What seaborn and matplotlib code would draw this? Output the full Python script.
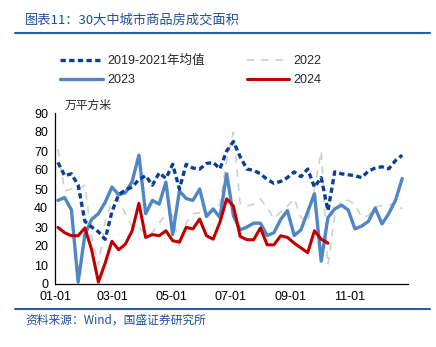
import matplotlib
matplotlib.use("Agg")
import matplotlib.pyplot as plt
import seaborn as sns
import pandas as pd

# ---- data (weekly) ----
series_names = ["2019-2021年均值", "2022", "2023", "2024"]
avg_1921 = [64, 57, 58, 52, 33, 30, 27.5, 23.5, 38, 47, 49.5, 51, 55, 57, 52, 58.5, 55.6, 63, 50, 63,
            61, 60.5, 63.4, 64, 60.6, 70, 75, 67, 60.5, 59.8, 58, 55, 53, 54, 56, 59, 56.5, 60.5, 51, 56,
            38.6, 59, 58, 57.5, 57, 56, 59.5, 61, 61.7, 60.6, 65, 67.8]
y2022 = [71, 49, 50, 50, 52, 25, 10, 33, 44, 44, 37, 30, 30, 26, 27, 32, 37, 36, 20, 32,
         37, 37.5, 37.5, 38, 42, 65, 80, 42, 41, 42, 44.8, 40, 34.4, 38, 41, 45, 35, 32.5, 50, 70,
         10, 36, 44, 44, 42, 35, 36, 40.5, 41.3, 41.5, 43, 39.5]
y2023 = [44, 45.5, 39, 1, 26, 34, 37, 43, 51, 47, 48, 54, 67.8, 37, 44, 42, 53.6, 26, 49, 45,
         44, 50, 35.5, 39.5, 35, 58, 36, 28.5, 30, 32, 32, 25.5, 27, 34, 38.6, 25.5, 28.5, 38, 47.5, 12,
         35, 39.5, 41.5, 39, 29, 30.5, 33, 40, 31.6, 37, 44, 55.5]
y2024 = [29.8, 27, 25.4, 25.4, 29.5, 18, 1, 11, 22.5, 18, 21, 28, 42.5, 24.5, 26, 25.4, 28, 22.8, 22, 29.8,
         29, 34.2, 25.4, 23.6, 32.5, 44.8, 41, 25, 23.3, 23.3, 29.5, 20.6, 20.6, 25.4, 24.5, 21.5, 19, 16.5, 28, 23.6,
         21.5]
week_dates = pd.date_range("2024-01-04", periods=52, freq="7D")
x_tick_dates = ["2024-01-01", "2024-03-01", "2024-05-01", "2024-07-01", "2024-09-01", "2024-11-01", "2025-01-01"]
y_ticks = [0, 10, 20, 30, 40, 50, 60, 70, 80, 90]

sns.set_style("white")
plt.rcParams["font.family"] = ["Liberation Sans", "Noto Sans CJK SC", "DejaVu Sans"]

fig = plt.figure(figsize=(4.36, 3.47), dpi=100)
ax = fig.add_axes([55 / 436, 1 - 284 / 347, (408 - 55) / 436, (284 - 113) / 347])

frames = []
for name, vals in zip(series_names, [avg_1921, y2022, y2023, y2024]):
    frames.append(pd.DataFrame({"date": week_dates[:len(vals)], "value": vals, "series": name}))
df = pd.concat(frames, ignore_index=True)

styles = {
    "2022": dict(color="#cfcfcf", lw=1.2, ls=(0, (4.5, 4)), z=1),
    "2023": dict(color="#4f86c6", lw=2.4, ls="-", z=2),
    "2019-2021年均值": dict(color="#0a3f94", lw=2.4, ls=(0, (1.6, 1.0)), z=3),
    "2024": dict(color="#c00000", lw=2.2, ls="-", z=4),
}
handles = {}
for name in ["2022", "2023", "2019-2021年均值", "2024"]:
    st = styles[name]
    sub = df[df["series"] == name]
    sns.lineplot(data=sub, x="date", y="value", ax=ax, color=st["color"], lw=st["lw"],
                 linestyle=st["ls"], zorder=st["z"], label=name)
    handles[name] = ax.get_lines()[-1]
ax.get_legend().remove()

ax.set_xlim(pd.Timestamp("2024-01-01"), pd.Timestamp("2025-01-01"))
ax.set_ylim(0, 90)
ax.set_yticks(y_ticks)
ax.set_xticks([pd.Timestamp(d) for d in x_tick_dates])
ax.set_xticklabels([pd.Timestamp(d).strftime("%m-%d") for d in x_tick_dates[:-1]] + [""])
ax.set_xlabel("")
ax.set_ylabel("")
for s in ["top", "right"]:
    ax.spines[s].set_visible(False)
for s in ["left", "bottom"]:
    ax.spines[s].set_color("black")
    ax.spines[s].set_linewidth(0.9)
ax.tick_params(axis="y", direction="out", length=3, width=0.9, labelsize=9, pad=2, colors="black")
ax.tick_params(axis="x", direction="in", length=3, width=0.9, labelsize=9, pad=5, colors="black")
ax.grid(False)

# unit label
fig.text(65 / 436, 1 - 105 / 347, "万平方米", fontsize=8.5, family=["Noto Sans CJK SC"], va="center", ha="left")

# legend
order = ["2019-2021年均值", "2023", "2022", "2024"]
fig.legend([handles[n] for n in order], order, ncol=2, loc="center left",
           bbox_to_anchor=(60 / 436, 1 - 70.5 / 347), frameon=False, fontsize=9,
           handlelength=3.4, handletextpad=0.35, columnspacing=3.4, labelspacing=0.55, borderpad=0,
           borderaxespad=0)

# title and rules
fig.text(25 / 436, 1 - 20 / 347, "图表11：30大中城市商品房成交面积", fontsize=9.5, color="#1f4e9c",
         style="italic", va="center", ha="left", family=["Noto Sans CJK SC", "DejaVu Sans"])
fig.add_artist(plt.Line2D([15 / 436, 430 / 436], [1 - 33 / 347, 1 - 33 / 347], color="#2a5caa", lw=1.5))
fig.add_artist(plt.Line2D([15 / 436, 430 / 436], [1 - 309 / 347, 1 - 309 / 347], color="#2a5caa", lw=1.5))
fig.text(25 / 436, 1 - 320 / 347, "资料来源：Wind，国盛证券研究所", fontsize=8.5, color="#1f4e9c",
         style="italic", va="center", ha="left", family=["Noto Sans CJK SC", "DejaVu Sans"])

fig.savefig("out.png", dpi=100)
